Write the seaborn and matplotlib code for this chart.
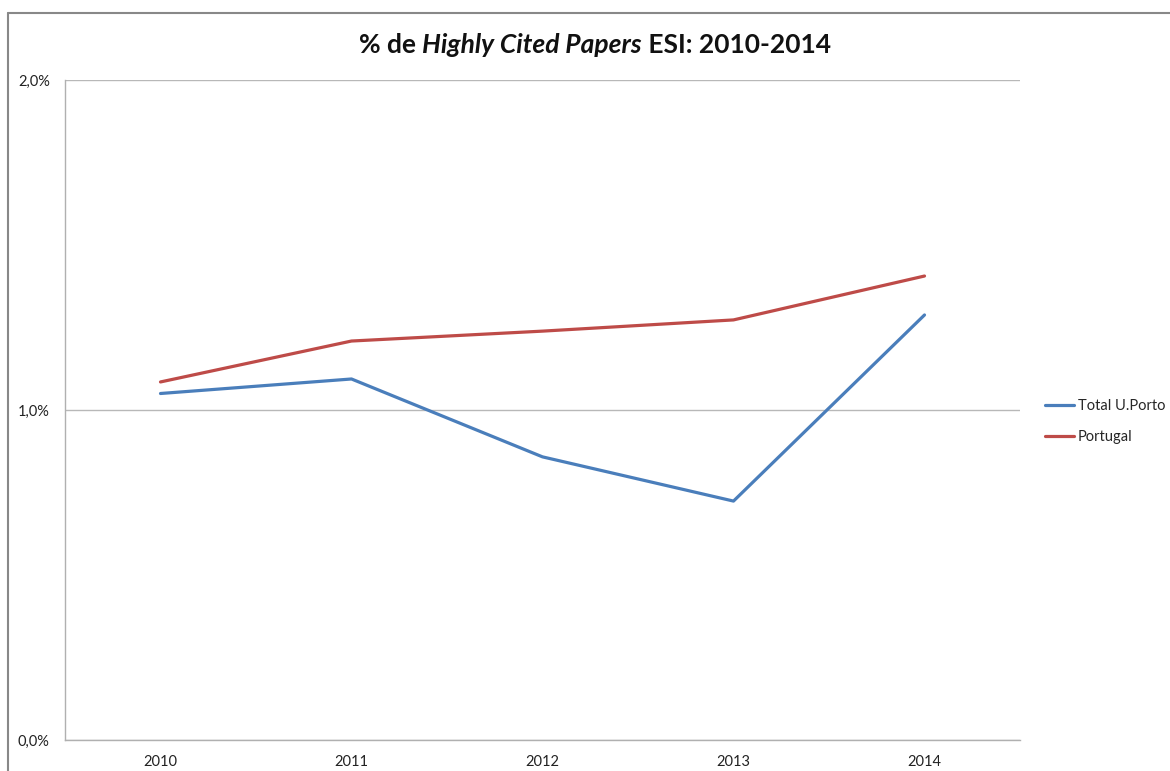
import matplotlib
matplotlib.use("Agg")
import matplotlib.pyplot as plt
import seaborn as sns
import pandas as pd
from matplotlib.lines import Line2D
from matplotlib.ticker import FuncFormatter, FixedLocator

years = ["2010", "2011", "2012", "2013", "2014"]
porto = [1.05, 1.094, 0.858, 0.724, 1.288]
portugal = [1.085, 1.209, 1.239, 1.273, 1.406]
series_names = ["Total U.Porto", "Portugal"]
colors = ["#4A7EBB", "#BE4B48"]

df = pd.DataFrame({
    "Ano": years * 2,
    "Valor": porto + portugal,
    "Serie": [series_names[0]] * len(years) + [series_names[1]] * len(years),
})

sns.set_theme(style="white")
plt.rcParams["font.family"] = ["Lato", "DejaVu Sans"]

W, H = 1170, 771
fig = plt.figure(figsize=(W / 100, H / 100), dpi=100)
ax = fig.add_axes([65 / W, 31 / H, (1020 - 65) / W, (740 - 80) / H])

sns.lineplot(data=df, x="Ano", y="Valor", hue="Serie", palette=colors,
             linewidth=2.3, ax=ax, legend=False, sort=False)

ax.set_ylim(0, 2.0)
ax.set_xlim(-0.5, len(years) - 0.5)
ax.set_yticks([0, 1.0, 2.0])
ax.yaxis.set_major_formatter(FuncFormatter(lambda v, p: f"{v:.1f}%".replace(".", ",")))
ax.set_xticks(range(len(years)))
ax.set_xticklabels(years)
ax.xaxis.set_minor_locator(FixedLocator([i - 0.5 for i in range(len(years) + 1)]))
ax.tick_params(axis="x", which="major", length=0, pad=11, labelsize=10.5, colors="#222222")
ax.tick_params(axis="x", which="minor", length=5, color="#a0a0a0", width=1, direction="out")
ax.tick_params(axis="y", which="major", length=5, color="#a0a0a0", width=1, direction="out",
               pad=6, labelsize=10.5, labelcolor="#222222")
ax.grid(axis="y", color="#b8b8b8", linewidth=1)
ax.set_axisbelow(True)
for s in ["top", "right"]:
    ax.spines[s].set_visible(False)
for s in ["left", "bottom"]:
    ax.spines[s].set_color("#b0b0b0")
    ax.spines[s].set_linewidth(1)
ax.set_xlabel("")
ax.set_ylabel("")

handles = [Line2D([0], [0], color=c, linewidth=2.3) for c in colors]
fig.legend(handles, series_names, loc="upper left", bbox_to_anchor=(1045 / W, 1 - 399 / H),
           frameon=False, fontsize=10.5, handlelength=2.0, handletextpad=0.25,
           labelspacing=1.15, borderpad=0, borderaxespad=0)

# outer chart frame
fig.add_artist(Line2D([8 / W, 1], [1 - 13 / H, 1 - 13 / H], color="#888888", linewidth=1.5))
fig.add_artist(Line2D([8 / W, 8 / W], [0, 1 - 13 / H], color="#888888", linewidth=1.5))

# title with italic part
parts = [("% de ", "normal"), ("Highly Cited Papers", "italic"), (" ESI: 2010-2014", "normal")]
texts = []
for s, st in parts:
    t = fig.text(0, 1 - 45 / H, s, fontsize=19, fontweight="bold", style=st,
                 va="center", ha="left", color="#111111")
    texts.append(t)
fig.canvas.draw()
r = fig.canvas.get_renderer()
widths = [t.get_window_extent(r).width for t in texts]
total = sum(widths)
x = 595 - total / 2
for t, w in zip(texts, widths):
    t.set_x(x / W)
    x += w

fig.savefig("out.png", dpi=100)
